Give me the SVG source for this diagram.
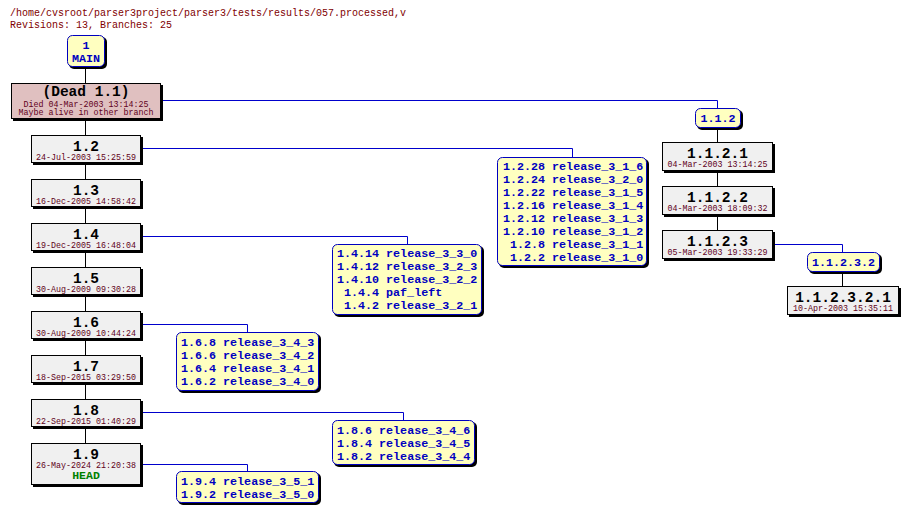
<svg xmlns="http://www.w3.org/2000/svg" width="907" height="513" viewBox="0 0 907 513">
<style>
text{font-family:"Liberation Mono","DejaVu Sans Mono",monospace}
.hdr{font-size:10px;fill:#800000}
.box{fill:#f0f0f0;stroke:#000;stroke-width:1}
.dead{fill:#e0c0c0;stroke:#000;stroke-width:1}
.tag{fill:#ffffc0;stroke:#0000c0;stroke-width:1}
.sh{fill:#000}
.rev{font-size:14.5px;font-weight:bold;text-anchor:middle;fill:#000}
.date{font-size:8.33px;text-anchor:middle;fill:#600020}
.tt{font-size:11.7px;font-weight:bold;fill:#0000c0}
.ttc{font-size:11.7px;font-weight:bold;fill:#0000c0;text-anchor:middle}
.head{font-size:11.5px;font-weight:bold;fill:#008000;text-anchor:middle}
.trunk{stroke:#000;stroke-width:1;fill:none}
.link{stroke:#0000cc;stroke-width:1;fill:none}
</style>
<rect width="907" height="513" fill="#fff"/>
<text class="hdr" x="10" y="16">/home/cvsroot/parser3project/parser3/tests/results/057.processed,v</text>
<text class="hdr" x="10" y="28">Revisions: 13, Branches: 25</text>

<g id="connectors">
<path class="trunk" d="M85.5 67V83M85.5 119V135M85.5 163V179M85.5 207V223M85.5 251V267M85.5 295V311M85.5 339V355M85.5 383V399M85.5 427V443"/>
<path class="trunk" d="M717.5 127V142M717.5 171V186M717.5 215V230M842.5 272V286"/>
<path class="link" d="M161 100.5H717.5V108"/>
<path class="link" d="M141 148.5H572.5V157"/>
<path class="link" d="M141 236.5H407.5V244"/>
<path class="link" d="M141 324.5H247.5V332"/>
<path class="link" d="M141 412.5H403.5V420"/>
<path class="link" d="M141 464.5H247.5V471"/>
<path class="link" d="M773 244.5H842.5V252"/>
</g>

<g id="main">
<rect class="sh" x="69" y="37" width="38" height="32" rx="5"/>
<rect class="tag" x="67.5" y="35.5" width="37" height="31" rx="5"/>
<text class="ttc" x="86" y="49">1</text>
<text class="ttc" x="86" y="62">MAIN</text>
</g>

<g id="r1.1">
<rect class="sh" x="13" y="85" width="150" height="36"/>
<rect class="dead" x="11.5" y="83.5" width="149" height="35"/>
<text class="rev" x="86" y="96">(Dead 1.1)</text>
<text class="date" x="86" y="106.5">Died 04-Mar-2003 13:14:25</text>
<text class="date" x="86" y="114.5">Maybe alive in other branch</text>
</g>

<g id="r1.2">
<rect class="sh" x="33" y="137" width="110" height="28"/>
<rect class="box" x="31.5" y="135.5" width="109" height="27"/>
<text class="rev" x="86" y="150.5">1.2</text>
<text class="date" x="86" y="159.5">24-Jul-2003 15:25:59</text>
</g>
<g id="r1.3">
<rect class="sh" x="33" y="181" width="110" height="28"/>
<rect class="box" x="31.5" y="179.5" width="109" height="27"/>
<text class="rev" x="86" y="194.5">1.3</text>
<text class="date" x="86" y="203.5">16-Dec-2005 14:58:42</text>
</g>
<g id="r1.4">
<rect class="sh" x="33" y="225" width="110" height="28"/>
<rect class="box" x="31.5" y="223.5" width="109" height="27"/>
<text class="rev" x="86" y="238.5">1.4</text>
<text class="date" x="86" y="247.5">19-Dec-2005 16:48:04</text>
</g>
<g id="r1.5">
<rect class="sh" x="33" y="269" width="110" height="28"/>
<rect class="box" x="31.5" y="267.5" width="109" height="27"/>
<text class="rev" x="86" y="282.5">1.5</text>
<text class="date" x="86" y="291.5">30-Aug-2009 09:30:28</text>
</g>
<g id="r1.6">
<rect class="sh" x="33" y="313" width="110" height="28"/>
<rect class="box" x="31.5" y="311.5" width="109" height="27"/>
<text class="rev" x="86" y="326.5">1.6</text>
<text class="date" x="86" y="335.5">30-Aug-2009 10:44:24</text>
</g>
<g id="r1.7">
<rect class="sh" x="33" y="357" width="110" height="28"/>
<rect class="box" x="31.5" y="355.5" width="109" height="27"/>
<text class="rev" x="86" y="370.5">1.7</text>
<text class="date" x="86" y="379.5">18-Sep-2015 03:29:50</text>
</g>
<g id="r1.8">
<rect class="sh" x="33" y="401" width="110" height="28"/>
<rect class="box" x="31.5" y="399.5" width="109" height="27"/>
<text class="rev" x="86" y="414.5">1.8</text>
<text class="date" x="86" y="423.5">22-Sep-2015 01:40:29</text>
</g>
<g id="r1.9">
<rect class="sh" x="33" y="445" width="110" height="42"/>
<rect class="box" x="31.5" y="443.5" width="109" height="41"/>
<text class="rev" x="86" y="458.5">1.9</text>
<text class="date" x="86" y="467.5">26-May-2024 21:20:38</text>
<text class="head" x="86" y="479">HEAD</text>
</g>

<g id="tags1.2">
<rect class="sh" x="499" y="159" width="150" height="109" rx="5"/>
<rect class="tag" x="497.5" y="157.5" width="149" height="108" rx="5"/>
<text class="tt" x="503" y="170">1.2.28 release_3_1_6</text>
<text class="tt" x="503" y="183">1.2.24 release_3_2_0</text>
<text class="tt" x="503" y="196">1.2.22 release_3_1_5</text>
<text class="tt" x="503" y="209">1.2.16 release_3_1_4</text>
<text class="tt" x="503" y="222">1.2.12 release_3_1_3</text>
<text class="tt" x="503" y="235">1.2.10 release_3_1_2</text>
<text class="tt" x="510" y="248">1.2.8 release_3_1_1</text>
<text class="tt" x="510" y="261">1.2.2 release_3_1_0</text>
</g>
<g id="tags1.4">
<rect class="sh" x="334" y="246" width="150" height="71" rx="5"/>
<rect class="tag" x="332.5" y="244.5" width="149" height="70" rx="5"/>
<text class="tt" x="337" y="257">1.4.14 release_3_3_0</text>
<text class="tt" x="337" y="270">1.4.12 release_3_2_3</text>
<text class="tt" x="337" y="283">1.4.10 release_3_2_2</text>
<text class="tt" x="344" y="296">1.4.4 paf_left</text>
<text class="tt" x="344" y="309">1.4.2 release_3_2_1</text>
</g>
<g id="tags1.6">
<rect class="sh" x="178" y="334" width="143" height="59" rx="5"/>
<rect class="tag" x="176.5" y="332.5" width="142" height="58" rx="5"/>
<text class="tt" x="181" y="346">1.6.8 release_3_4_3</text>
<text class="tt" x="181" y="359">1.6.6 release_3_4_2</text>
<text class="tt" x="181" y="372">1.6.4 release_3_4_1</text>
<text class="tt" x="181" y="385">1.6.2 release_3_4_0</text>
</g>
<g id="tags1.8">
<rect class="sh" x="334" y="422" width="143" height="45" rx="5"/>
<rect class="tag" x="332.5" y="420.5" width="142" height="44" rx="5"/>
<text class="tt" x="337" y="434">1.8.6 release_3_4_6</text>
<text class="tt" x="337" y="447">1.8.4 release_3_4_5</text>
<text class="tt" x="337" y="460">1.8.2 release_3_4_4</text>
</g>
<g id="tags1.9">
<rect class="sh" x="178" y="473" width="143" height="32" rx="5"/>
<rect class="tag" x="176.5" y="471.5" width="142" height="31" rx="5"/>
<text class="tt" x="181" y="485">1.9.4 release_3_5_1</text>
<text class="tt" x="181" y="498">1.9.2 release_3_5_0</text>
</g>

<g id="b1.1.2">
<rect class="sh" x="697" y="110" width="46" height="20" rx="5"/>
<rect class="tag" x="695.5" y="108.5" width="45" height="19" rx="5"/>
<text class="ttc" x="718" y="122">1.1.2</text>
</g>
<g id="r1.1.2.1">
<rect class="sh" x="664" y="144" width="111" height="29"/>
<rect class="box" x="662.5" y="142.5" width="110" height="28"/>
<text class="rev" x="717.5" y="157.5">1.1.2.1</text>
<text class="date" x="717.5" y="166.5">04-Mar-2003 13:14:25</text>
</g>
<g id="r1.1.2.2">
<rect class="sh" x="664" y="188" width="111" height="29"/>
<rect class="box" x="662.5" y="186.5" width="110" height="28"/>
<text class="rev" x="717.5" y="201.5">1.1.2.2</text>
<text class="date" x="717.5" y="210.5">04-Mar-2003 18:09:32</text>
</g>
<g id="r1.1.2.3">
<rect class="sh" x="664" y="232" width="111" height="29"/>
<rect class="box" x="662.5" y="230.5" width="110" height="28"/>
<text class="rev" x="717.5" y="245.5">1.1.2.3</text>
<text class="date" x="717.5" y="254.5">05-Mar-2003 19:33:29</text>
</g>
<g id="b1.1.2.3.2">
<rect class="sh" x="809" y="254" width="73" height="20" rx="5"/>
<rect class="tag" x="807.5" y="252.5" width="72" height="19" rx="5"/>
<text class="ttc" x="843.5" y="266">1.1.2.3.2</text>
</g>
<g id="r1.1.2.3.2.1">
<rect class="sh" x="789" y="288" width="112" height="29"/>
<rect class="box" x="787.5" y="286.5" width="111" height="28"/>
<text class="rev" x="843" y="301.5">1.1.2.3.2.1</text>
<text class="date" x="843" y="310.5">10-Apr-2003 15:35:11</text>
</g>
</svg>
